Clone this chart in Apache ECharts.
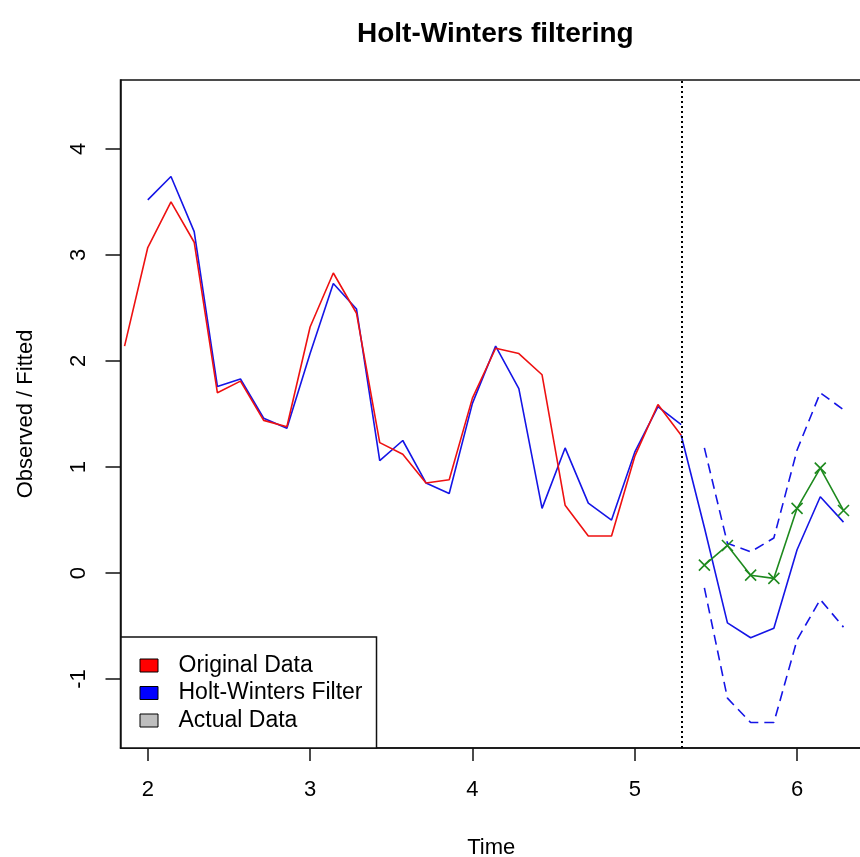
<!DOCTYPE html>
<html>
<head>
<meta charset="utf-8">
<script src="https://cdn.jsdelivr.net/npm/echarts@6/dist/echarts.min.js"></script>
<style>
  html, body { margin: 0; padding: 0; background: #fff; overflow: hidden; }
  #chart { width: 860px; height: 857px; }
</style>
</head>
<body>
<div id="chart"></div>
<script>
// observed series, frequency 7
const timeObs = [1.857, 2.000, 2.143, 2.286, 2.429, 2.571, 2.714, 2.857, 3.000, 3.143, 3.286, 3.429, 3.571,
                 3.714, 3.857, 4.000, 4.143, 4.286, 4.429, 4.571, 4.714, 4.857, 5.000, 5.143, 5.286]
const original = [2.14, 3.07, 3.50, 3.12, 1.70, 1.81, 1.44, 1.38, 2.32, 2.83, 2.45, 1.23, 1.12,
                  0.85, 0.88, 1.65, 2.12, 2.07, 1.87, 0.64, 0.35, 0.35, 1.10, 1.59, 1.30]

const timeFit = [2.000, 2.143, 2.286, 2.429, 2.571, 2.714, 2.857, 3.000, 3.143, 3.286, 3.429, 3.571,
                 3.714, 3.857, 4.000, 4.143, 4.286, 4.429, 4.571, 4.714, 4.857, 5.000, 5.143, 5.286]
const fitted = [3.52, 3.74, 3.22, 1.76, 1.83, 1.46, 1.365, 2.07, 2.73, 2.49, 1.06, 1.25,
                0.85, 0.75, 1.60, 2.14, 1.74, 0.61, 1.18, 0.66, 0.50, 1.14, 1.57, 1.40]

// forecast part
const timePred = [5.286, 5.429, 5.571, 5.714, 5.857, 6.000, 6.143, 6.286]
const predicted = [1.30, 0.43, -0.47, -0.61, -0.52, 0.22, 0.72, 0.48]

const timeBand = [5.429, 5.571, 5.714, 5.857, 6.000, 6.143, 6.286]
const upper = [1.18, 0.28, 0.20, 0.33, 1.16, 1.70, 1.54]
const lower = [-0.14, -1.18, -1.41, -1.41, -0.63, -0.25, -0.51]
const actual = [0.075, 0.26, -0.02, -0.05, 0.61, 0.99, 0.59]

const xTicks = [2, 3, 4, 5, 6]
const yTicks = [-1, 0, 1, 2, 3, 4]
const splitTime = 5.286

const FONT = 'Liberation Sans, Arial, sans-serif'
const RED = '#ee1111'
const BLUE = '#1515e6'
const GREEN = '#1e8a1e'

const zip = (xs, ys) => xs.map((x, i) => [x, ys[i]])

const chart = echarts.init(document.getElementById('chart'))

chart.setOption({
  animation: false,
  backgroundColor: '#fff',
  title: {
    text: 'Holt-Winters filtering',
    left: 352,
    top: 15,
    textStyle: { fontFamily: FONT, fontSize: 28, fontWeight: 'bold', color: '#000' }
  },
  grid: {
    left: 120.5,
    top: 80,
    bottom: 109,
    right: -2,
    outerBoundsMode: 'none',
    show: true,
    borderColor: '#111',
    borderWidth: 1.5,
    backgroundColor: 'transparent'
  },
  legend: {
    orient: 'vertical',
    left: 121,
    top: 637,
    data: [
      { name: 'Original Data', itemStyle: { color: '#ff0000' } },
      { name: 'Holt-Winters Filter', itemStyle: { color: '#0000ff' } },
      { name: 'Actual Data', itemStyle: { color: '#bebebe' } }
    ],
    icon: 'rect',
    itemWidth: 18,
    itemHeight: 13,
    itemGap: 4.5,
    padding: [17, 14, 16, 18.5],
    backgroundColor: '#fff',
    borderColor: '#111',
    borderWidth: 1.5,
    borderRadius: 0,
    itemStyle: { borderColor: '#000', borderWidth: 1 },
    textStyle: { fontFamily: FONT, fontSize: 23, color: '#000', lineHeight: 22, padding: [0, 0, 0, 15.5] }
  },
  xAxis: {
    type: 'value',
    min: 1.832,
    max: 6.4,
    name: 'Time',
    nameLocation: 'middle',
    nameGap: 89,
    nameTextStyle: { fontFamily: FONT, fontSize: 22, color: '#000' },
    axisLine: { show: true, onZero: false, lineStyle: { color: '#111', width: 1.5 } },
    axisTick: { show: true, length: 13, customValues: xTicks, lineStyle: { color: '#111', width: 1.5 } },
    axisLabel: { customValues: xTicks, margin: 31, fontFamily: FONT, fontSize: 22, color: '#000' },
    splitLine: { show: false }
  },
  yAxis: {
    type: 'value',
    min: -1.65,
    max: 4.65,
    name: 'Observed / Fitted',
    nameLocation: 'middle',
    nameRotate: 90,
    nameGap: 84,
    nameTextStyle: { fontFamily: FONT, fontSize: 22, color: '#000' },
    axisLine: { show: true, onZero: false, lineStyle: { color: '#111', width: 1.5 } },
    axisTick: { show: true, length: 15, customValues: yTicks, lineStyle: { color: '#111', width: 1.5 } },
    axisLabel: { customValues: yTicks, rotate: 90, margin: 31, fontFamily: FONT, fontSize: 22, color: '#000' },
    splitLine: { show: false }
  },
  series: [
    {
      name: 'Original Data',
      type: 'line',
      data: zip(timeObs, original),
      symbol: 'none',
      lineStyle: { color: RED, width: 1.6 },
      itemStyle: { color: RED },
      z: 3,
      markLine: {
        silent: true,
        symbol: 'none',
        label: { show: false },
        lineStyle: { color: '#000', type: [2, 3], width: 2 },
        data: [{ xAxis: splitTime }]
      }
    },
    {
      name: 'Holt-Winters Filter',
      type: 'line',
      data: zip(timeFit, fitted),
      symbol: 'none',
      lineStyle: { color: BLUE, width: 1.6 },
      itemStyle: { color: BLUE },
      z: 2
    },
    {
      name: 'Prediction',
      type: 'line',
      data: zip(timePred, predicted),
      symbol: 'none',
      lineStyle: { color: BLUE, width: 1.6 },
      itemStyle: { color: BLUE }
    },
    {
      name: 'Upper',
      type: 'line',
      data: zip(timeBand, upper),
      symbol: 'none',
      lineStyle: { color: BLUE, width: 1.6, type: [10, 6] },
      itemStyle: { color: BLUE }
    },
    {
      name: 'Lower',
      type: 'line',
      data: zip(timeBand, lower),
      symbol: 'none',
      lineStyle: { color: BLUE, width: 1.6, type: [10, 6] },
      itemStyle: { color: BLUE }
    },
    {
      name: 'Actual Data',
      type: 'line',
      data: zip(timeBand, actual),
      symbol: 'path://M0 0L10 10M10 0L0 10',
      symbolSize: 11,
      lineStyle: { color: GREEN, width: 1.6 },
      itemStyle: { color: 'transparent', borderColor: GREEN, borderWidth: 1.6 },
      z: 4
    }
  ]
})
</script>
</body>
</html>
